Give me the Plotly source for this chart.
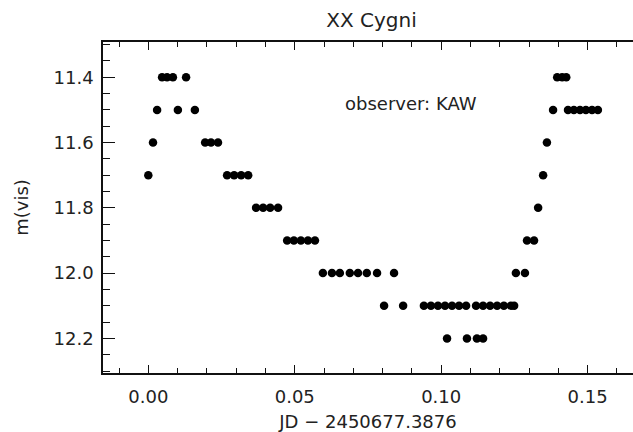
import plotly.graph_objects as go

# Observations: JD - 2450677.3876 and visual magnitude
jd = [
    0.0047, 0.0064, 0.0084, 0.0129, 0.1396, 0.1413, 0.1427,
    0.0030, 0.0101, 0.0159, 0.1382, 0.1433, 0.1453, 0.1474, 0.1494, 0.1515, 0.1535,
    0.0016, 0.0194, 0.0214, 0.0238, 0.1361,
    0.0000, 0.0269, 0.0293, 0.0317, 0.0341, 0.1348,
    0.0368, 0.0392, 0.0416, 0.0443, 0.1331,
    0.0474, 0.0497, 0.0521, 0.0545, 0.0569, 0.1293, 0.1317,
    0.0596, 0.0627, 0.0654, 0.0688, 0.0716, 0.0746, 0.0781, 0.0839, 0.1255, 0.1286,
    0.0805, 0.0870, 0.0941, 0.0965, 0.0989, 0.1013, 0.1037, 0.1061, 0.1085,
    0.1119, 0.1143, 0.1167, 0.1191, 0.1214, 0.1238, 0.1249,
    0.1020, 0.1088, 0.1122, 0.1143,
]
mag = [
    11.4, 11.4, 11.4, 11.4, 11.4, 11.4, 11.4,
    11.5, 11.5, 11.5, 11.5, 11.5, 11.5, 11.5, 11.5, 11.5, 11.5,
    11.6, 11.6, 11.6, 11.6, 11.6,
    11.7, 11.7, 11.7, 11.7, 11.7, 11.7,
    11.8, 11.8, 11.8, 11.8, 11.8,
    11.9, 11.9, 11.9, 11.9, 11.9, 11.9, 11.9,
    12.0, 12.0, 12.0, 12.0, 12.0, 12.0, 12.0, 12.0, 12.0, 12.0,
    12.1, 12.1, 12.1, 12.1, 12.1, 12.1, 12.1, 12.1, 12.1,
    12.1, 12.1, 12.1, 12.1, 12.1, 12.1, 12.1,
    12.2, 12.2, 12.2, 12.2,
]

x_ticks = [0.00, 0.05, 0.10, 0.15]
y_ticks = [11.4, 11.6, 11.8, 12.0, 12.2]

FONT = "DejaVu Sans"
TXT = "#222222"

fig = go.Figure()
fig.add_trace(go.Scatter(
    x=jd, y=mag, mode="markers",
    marker=dict(symbol="circle", size=8.5, color="black", line=dict(width=0)),
    showlegend=False, hoverinfo="skip",
))

fig.update_layout(
    width=633, height=432,
    margin=dict(l=103, r=0, t=42, b=59),
    paper_bgcolor="white", plot_bgcolor="white",
    font=dict(family=FONT, size=18, color=TXT),
    title=dict(text="XX Cygni", x=0.5066, xref="paper", xanchor="center",
               y=1 - 20 / 432, yref="container", yanchor="middle",
               font=dict(family=FONT, size=20, color=TXT)),
    xaxis=dict(
        range=[-0.01547, 0.16549], showgrid=False, zeroline=False,
        tickvals=x_ticks, tickformat=".2f",
        ticks="inside", ticklen=8, tickwidth=1.2, tickcolor="#111",
        minor=dict(dtick=0.01, tick0=0, ticks="inside", ticklen=5, tickwidth=1.2, tickcolor="#111"),
        showline=True, linecolor="#111", linewidth=1.5, mirror="ticks",
        ticklabelstandoff=7,
        title=dict(text="JD − 2450677.3876", standoff=12, font=dict(family=FONT, size=18, color=TXT)),
    ),
    yaxis=dict(
        range=[12.306, 11.292], showgrid=False, zeroline=False,
        tickvals=y_ticks, tickformat=".1f",
        ticks="inside", ticklen=12, tickwidth=1.2, tickcolor="#111",
        minor=dict(dtick=0.05, tick0=11.4, ticks="inside", ticklen=7, tickwidth=1.2, tickcolor="#111"),
        showline=True, linecolor="#111", linewidth=1.5, mirror=False,
        ticklabelstandoff=4,
        title=dict(text="m(vis)", standoff=20, font=dict(family=FONT, size=18, color=TXT)),
    ),
    yaxis2=dict(
        range=[12.306, 11.292], overlaying="y", side="right", anchor="free", position=1,
        tickvals=y_ticks, showticklabels=False, showgrid=False, zeroline=False,
        ticks="inside", ticklen=5, tickwidth=1.2, tickcolor="#111", showline=False,
    ),
)

fig.add_annotation(
    x=0.0897, y=11.479, xref="x", yref="y", text="observer: KAW", showarrow=False,
    font=dict(family=FONT, size=18, color=TXT), xanchor="center", yanchor="middle",
)

fig.write_html("out.html")
